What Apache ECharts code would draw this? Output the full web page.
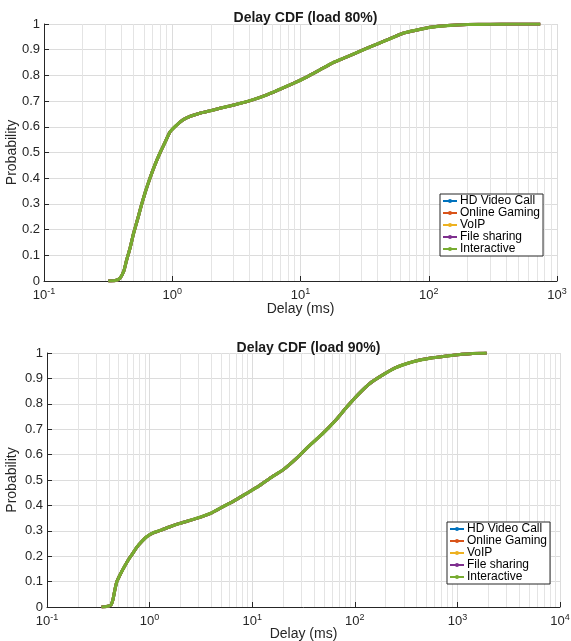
<!DOCTYPE html>
<html>
<head>
<meta charset="utf-8">
<script src="https://cdn.jsdelivr.net/npm/echarts@6/dist/echarts.min.js"></script>
<style>
  html, body { margin: 0; padding: 0; background: #fff; }
  #chart { width: 571px; height: 641px; }
</style>
</head>
<body>
<div id="chart"></div>
<script>
// series names, MATLAB default colours
var seriesNames = ['HD Video Call', 'Online Gaming', 'VoIP', 'File sharing', 'Interactive'];
var seriesColors = ['#0072BD', '#D95319', '#EDB120', '#7E2F8E', '#77AC30'];

// load 80% : delay (ms) and cumulative probability
var delay80 = [0.317, 0.36, 0.39, 0.42, 0.44, 0.47, 0.50, 0.54, 0.58, 0.62, 0.67, 0.73, 0.80, 0.88, 0.96,
  1.1, 1.22, 1.4, 1.64, 2.0, 2.35, 2.8, 3.37, 4.3, 5.45, 6.9, 8.8, 11, 14.2, 18, 23, 31, 40, 50, 63, 80,
  103, 140, 200, 300, 450, 740];
var prob80 = [0, 0.002, 0.01, 0.04, 0.08, 0.13, 0.186, 0.245, 0.302, 0.35, 0.40, 0.45, 0.497, 0.54, 0.58,
  0.61, 0.628, 0.642, 0.653, 0.663, 0.672, 0.681, 0.691, 0.706, 0.724, 0.746, 0.769, 0.792, 0.822, 0.85,
  0.872, 0.90, 0.923, 0.943, 0.964, 0.976, 0.987, 0.994, 0.998, 0.999, 1.0, 1.0];

// load 90%
var delay90 = [0.34, 0.38, 0.42, 0.44, 0.46, 0.48, 0.52, 0.57, 0.63, 0.67, 0.75, 0.84, 0.94, 1.1, 1.3,
  1.58, 2.0, 2.88, 4.0, 5.2, 6.8, 8.8, 11.5, 14.9, 20, 27, 35, 49, 65, 83, 110, 140, 176, 250, 372, 550,
  787, 1100, 1660, 1930];
var prob90 = [0, 0.002, 0.008, 0.03, 0.07, 0.1, 0.13, 0.16, 0.19, 0.205, 0.235, 0.258, 0.277, 0.293, 0.303,
  0.316, 0.33, 0.349, 0.37, 0.395, 0.42, 0.447, 0.475, 0.507, 0.54, 0.585, 0.63, 0.684, 0.735, 0.786, 0.84,
  0.88, 0.907, 0.942, 0.966, 0.98, 0.988, 0.995, 0.999, 1.0];

var chartTitles = ['Delay CDF (load 80%)', 'Delay CDF (load 90%)'];
var xMax = [1000, 10000];

var FONT = 'Liberation Sans, Arial, sans-serif';

function pairs(xs, ys) {
  var out = [];
  for (var i = 0; i < xs.length; i++) out.push([xs[i], ys[i]]);
  return out;
}

// minor log grid lines 2..9 in every decade
function minorLines(maxVal) {
  var out = [];
  for (var d = 0.1; d < maxVal; d *= 10) {
    for (var k = 2; k <= 9; k++) out.push({ xAxis: +(d * k).toPrecision(3) });
  }
  return out;
}

var myChart = echarts.init(document.getElementById('chart'));

var grids = [
  { left: 44, right: 14, top: 24, height: 257, outerBoundsMode: 'none' },
  { left: 47, right: 11, top: 353, height: 254, outerBoundsMode: 'none' }
];

var xAxes = [], yAxes = [], titles = [], legends = [], series = [];
var dataSets = [pairs(delay80, prob80), pairs(delay90, prob90)];
var legendPos = [{ left: 440, top: 194 }, { left: 447, top: 522 }];
var titleTop = [6, 336];
var yNameGap = [25, 28];
var xNameGap = [21, 20];

for (var g = 0; g < 2; g++) {
  titles.push({
    text: chartTitles[g],
    left: (grids[g].left + 571 - grids[g].right) / 2,
    top: titleTop[g],
    textAlign: 'center',
    textStyle: { fontFamily: FONT, fontSize: 14, fontWeight: 'bold', color: '#1a1a1a' }
  });
  xAxes.push({
    gridIndex: g,
    type: 'log',
    logBase: 10,
    min: 0.1,
    max: xMax[g],
    name: 'Delay (ms)',
    nameLocation: 'middle',
    nameGap: xNameGap[g],
    nameMoveOverlap: false,
    nameTextStyle: { fontFamily: FONT, fontSize: 14, color: '#262626' },
    axisLine: { lineStyle: { color: '#262626', width: 1 } },
    axisTick: { inside: true, length: 5, lineStyle: { color: '#262626' } },
    axisLabel: {
      margin: 6,
      formatter: function (v) {
        var e = Math.round(Math.log(v) / Math.LN10);
        return '{b|10}{s|' + e + '}';
      },
      rich: {
        b: { fontFamily: FONT, fontSize: 13, color: '#262626' },
        s: { fontFamily: FONT, fontSize: 9, color: '#262626', padding: [0, 0, 8, 0] }
      }
    },
    splitLine: { show: true, lineStyle: { color: '#dcdcdc', width: 1 } }
  });
  yAxes.push({
    gridIndex: g,
    type: 'value',
    min: 0,
    max: 1,
    interval: 0.1,
    name: 'Probability',
    nameLocation: 'middle',
    nameGap: yNameGap[g],
    nameMoveOverlap: false,
    nameTextStyle: { fontFamily: FONT, fontSize: 14, color: '#262626' },
    axisLine: { show: true, lineStyle: { color: '#262626', width: 1 } },
    axisTick: { show: true, inside: true, length: 5, lineStyle: { color: '#262626' } },
    axisLabel: { fontFamily: FONT, fontSize: 13, color: '#262626', margin: 4 },
    splitLine: { show: true, lineStyle: { color: '#dcdcdc', width: 1 } }
  });
  legends.push({
    orient: 'vertical',
    left: legendPos[g].left,
    top: legendPos[g].top,
    data: seriesNames,
    backgroundColor: '#fff',
    borderColor: '#262626',
    borderWidth: 1,
    borderRadius: 0,
    padding: [1, 3, 1, 2],
    itemGap: 0,
    itemWidth: 14,
    itemHeight: 5,
    textStyle: { fontFamily: FONT, fontSize: 12, lineHeight: 12, color: '#000', padding: [0, 0, 0, -2] }
  });
  for (var s = 0; s < seriesNames.length; s++) {
    var ser = {
      name: seriesNames[s],
      type: 'line',
      xAxisIndex: g,
      yAxisIndex: g,
      data: dataSets[g],
      showSymbol: false,
      symbol: 'circle',
      symbolSize: 3,
      smooth: 0.15,
      color: seriesColors[s],
      lineStyle: { width: s === 4 ? 3.2 : 3, color: seriesColors[s] },
      z: 2
    };
    if (s === 0) {
      ser.markLine = {
        silent: true,
        z: 1,
        symbol: ['none', 'none'],
        label: { show: false },
        lineStyle: { color: '#e4e4e4', type: 'solid', width: 1 },
        data: minorLines(xMax[g])
      };
    }
    series.push(ser);
  }
}

var option = {
  animation: false,
  backgroundColor: '#fff',
  title: titles,
  legend: legends,
  grid: grids,
  xAxis: xAxes,
  yAxis: yAxes,
  series: series
};
myChart.setOption(option);
</script>
</body>
</html>
